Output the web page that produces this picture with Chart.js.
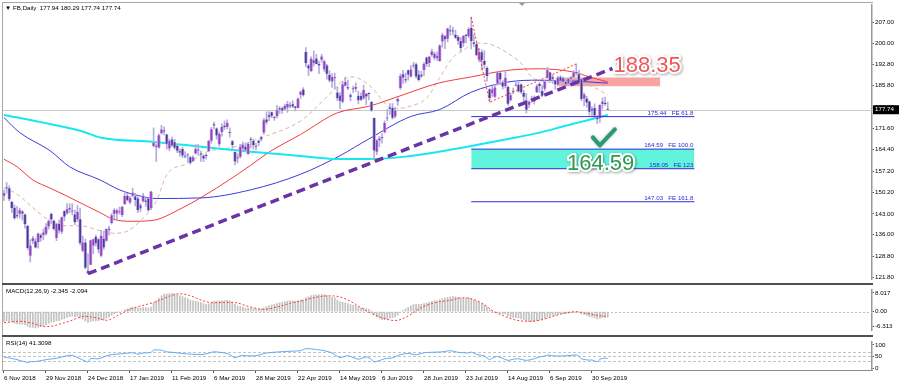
<!DOCTYPE html>
<html>
<head>
<meta charset="utf-8">
<script src="https://cdn.jsdelivr.net/npm/chart.js@4.4.0/dist/chart.umd.min.js"></script>
<style>
  html, body { margin: 0; padding: 0; background: #fff; }
  #wrap { position: relative; width: 900px; height: 387px; overflow: hidden; background: #fff; }
  #wrap canvas { position: absolute; left: 0; }
  .sep { position: absolute; left: 2px; width: 871px; height: 2px; background: #505050; }
  #frame { position: absolute; left: 2px; top: 2px; width: 870px; height: 368px; border-left: 1px solid #a8a8a8; border-top: 1px solid #a8a8a8; }
</style>
</head>
<body>
<div id="wrap">
  <div id="frame"></div>
  <canvas id="main" width="900" height="284" style="top:0"></canvas>
  <div class="sep" style="top:283px"></div>
  <canvas id="macd" width="900" height="50" style="top:285px"></canvas>
  <div class="sep" style="top:335px"></div>
  <canvas id="rsi" width="900" height="50" style="top:337px"></canvas>
</div>
<script>
// time axis: bar index of each date label
const tickIndex = [0, 16, 32, 48, 64, 80, 96, 112, 128, 144, 160, 176, 192, 208, 224];
const tickLabels = ['6 Nov 2018', '29 Nov 2018', '24 Dec 2018', '17 Jan 2019', '11 Feb 2019', '6 Mar 2019',
  '28 Mar 2019', '22 Apr 2019', '14 May 2019', '6 Jun 2019', '28 Jun 2019', '23 Jul 2019',
  '14 Aug 2019', '6 Sep 2019', '30 Sep 2019'];
const priceTicks = [207.00, 200.00, 192.80, 185.80, 178.60, 171.60, 164.40, 157.20, 150.20, 143.00, 136.00, 128.80, 121.80];
const macdTicks = [8.017, 0, -6.313];
const rsiTicks = [100, 70, 50, 30, 0];
const rsiLevels = [70, 50, 30];

// FB daily candles, 6 Nov 2018 .. 8 Oct 2019
const opens = [
  149.0,151.5,151.5,147.0,145.0,142.4,143.0,143.0,142.8,138.9,
  129.0,133.9,133.8,133.5,135.8,135.9,136.3,138.8,143.0,140.7,
  134.9,139.6,137.0,143.9,143.1,144.4,143.8,142.8,141.1,141.2,
  130.7,133.4,123.1,126.0,132.4,135.3,134.5,129.0,134.7,134.0,
  137.6,139.9,143.0,143.1,143.5,142.6,146.2,149.0,146.8,149.0,
  148.8,148.1,144.8,147.2,146.9,148.1,144.9,165.6,165.2,165.1,
  169.9,170.6,169.5,164.8,167.8,166.9,165.7,163.4,164.6,162.0,
  162.5,161.9,160.6,163.1,164.3,162.9,162.4,162.6,163.9,167.4,
  172.9,171.5,166.2,170.3,172.4,172.0,170.0,167.2,163.6,161.5,
  162.0,164.8,165.4,163.0,167.9,167.3,165.4,167.4,167.8,170.1,
  174.5,175.2,176.9,175.2,175.6,178.2,178.2,178.0,178.5,179.0,
  179.6,178.8,178.3,182.7,184.5,196.98,192.5,190.6,194.2,194.8,
  193.0,194.4,191.2,192.5,189.4,187.2,188.3,183.5,182.5,180.4,
  185.7,184.8,181.9,184.6,184.7,182.4,182.3,181.5,183.0,183.1,
  180.3,175.0,163.7,167.5,168.3,170.2,174.8,178.5,178.4,175.5,
  180.5,185.0,189.6,187.9,190.9,188.8,192.4,192.9,189.5,188.8,
  191.0,195.2,193.3,196.0,195.0,195.0,194.0,200.5,202.3,201.4,
  204.1,204.0,202.8,202.0,200.7,199.9,202.8,202.3,205.0,200.2,
  199.6,194.4,196.9,194.0,191.7,184.6,183.3,182.1,186.5,190.0,
  186.8,185.6,185.4,181.0,183.8,185.8,186.1,186.2,183.4,180.8,
  179.4,181.0,180.5,183.6,186.4,184.0,184.7,188.5,190.2,187.9,
  187.4,186.2,188.6,188.2,186.9,186.5,188.4,188.7,190.2,189.6,
  187.9,181.5,181.5,180.5,177.3,178.3,175.1,175.0,179.6,180.0,
  177.94];
const highs = [
  150.9,153.4,152.3,147.2,145.9,145.5,144.9,144.0,142.9,139.2,
  134.3,135.5,134.7,136.6,136.3,137.9,139.7,141.0,143.2,141.0,
  139.9,140.9,142.0,144.0,146.4,146.4,146.3,144.2,145.7,144.9,
  135.6,134.6,129.7,134.2,134.6,135.9,134.6,137.5,137.2,138.0,
  138.9,143.1,144.7,144.6,145.2,145.6,150.0,149.8,148.8,151.6,
  149.8,148.6,146.4,149.8,148.3,148.3,150.6,171.7,166.3,169.6,
  172.5,172.0,169.5,167.9,168.6,167.9,166.2,164.7,165.2,163.8,
  163.1,162.2,162.4,166.1,166.2,163.9,162.8,163.1,167.5,171.9,
  173.6,171.7,170.3,173.1,174.0,174.4,171.7,167.5,163.7,163.0,
  166.2,166.9,166.6,166.8,168.5,167.9,166.5,167.6,168.9,174.9,
  177.0,177.1,177.0,175.5,179.2,178.8,178.6,179.6,180.5,180.2,
  180.7,178.9,181.7,184.0,185.1,198.5,192.9,195.4,197.4,196.2,
  194.0,196.2,194.3,192.9,190.7,189.8,190.0,185.4,183.5,187.3,
  188.6,187.6,183.1,185.6,186.7,183.9,183.4,186.0,183.2,183.5,
  180.5,175.0,167.8,168.8,169.8,174.0,177.9,179.8,179.8,178.5,
  181.8,189.7,190.9,190.0,191.0,192.5,193.6,193.3,190.8,190.6,
  193.6,195.3,195.5,198.0,197.0,197.0,199.5,203.3,202.5,205.0,
  205.9,205.3,204.3,202.6,201.8,202.6,203.0,205.1,208.66,202.9,
  200.2,198.2,197.7,197.5,192.1,184.8,185.6,186.1,190.4,190.3,
  187.5,190.8,185.6,183.2,185.0,187.5,186.9,186.4,184.2,183.1,
  180.7,182.3,182.4,186.1,186.8,185.9,187.5,191.9,190.3,189.3,
  187.5,188.9,189.1,188.6,187.7,188.3,188.9,190.8,193.01,190.9,
  188.2,183.3,182.2,180.7,178.8,179.7,175.8,179.4,181.7,182.0,
  180.29];
const lows = [
  147.5,149.9,147.3,143.4,141.1,141.6,141.5,140.9,138.2,131.0,
  126.9,133.0,131.6,131.5,133.8,134.3,135.9,137.9,139.6,137.5,
  134.0,136.5,136.4,140.6,142.8,143.3,142.6,139.4,140.4,132.6,
  130.3,124.6,123.0,125.9,129.7,132.2,129.95,128.6,131.1,133.75,
  135.9,139.5,141.3,140.8,142.9,142.0,146.1,147.3,146.3,148.6,
  145.6,143.4,143.6,146.9,145.5,143.9,144.4,165.3,160.5,164.9,
  169.5,169.3,164.6,164.0,165.5,164.6,163.4,162.2,161.7,161.6,
  160.2,159.6,160.3,162.9,162.6,160.5,160.4,161.2,163.8,166.6,
  171.3,167.9,165.6,168.8,171.2,171.3,168.6,164.8,159.3,160.0,
  161.6,164.1,163.9,162.8,165.0,164.6,164.3,165.7,167.3,169.5,
  172.9,174.1,175.1,174.2,175.0,176.5,176.5,177.6,176.8,178.3,
  178.4,177.3,178.3,181.5,182.3,192.1,189.1,190.5,192.3,193.0,
  189.8,193.5,190.5,187.9,187.0,185.2,184.6,180.8,178.1,180.0,
  185.6,184.4,180.7,183.4,183.8,179.7,180.8,181.3,179.4,181.0,
  177.2,161.0,162.7,165.4,166.6,169.9,174.1,176.1,174.6,175.0,
  179.2,184.5,186.5,186.7,187.6,188.6,191.6,188.3,187.3,188.5,
  189.2,192.2,192.0,195.5,194.4,194.2,193.9,198.6,198.1,200.4,
  202.6,202.7,201.5,199.5,197.3,198.9,200.0,201.8,198.0,198.9,
  195.8,193.7,190.9,191.5,187.3,180.23,182.2,181.8,185.9,186.1,
  184.6,185.0,179.2,180.6,183.0,185.6,183.6,183.2,180.5,176.7,
  178.4,180.2,179.6,183.4,183.5,182.0,184.0,188.2,187.3,186.5,
  184.5,186.0,186.8,186.4,185.6,186.0,186.1,188.4,189.3,186.6,
  180.7,179.0,178.6,175.9,175.7,175.1,173.1,173.5,178.0,179.1,
  177.74];
const closes = [
  149.94,151.53,147.87,144.96,141.55,142.16,144.22,143.85,139.53,131.55,
  132.43,134.82,131.73,136.38,135.00,136.76,138.68,140.61,141.09,137.93,
  139.63,137.42,141.85,142.08,144.50,145.01,144.06,140.19,143.66,133.24,
  133.40,124.95,124.06,134.18,134.52,133.20,131.09,135.68,131.74,137.95,
  138.05,142.53,144.23,144.20,143.80,145.39,148.95,147.54,148.30,150.04,
  147.57,144.30,145.83,149.01,147.47,144.19,150.42,166.69,165.71,169.25,
  171.16,170.49,166.38,167.33,165.79,165.04,164.07,163.95,162.50,162.29,
  162.56,160.04,161.89,164.62,164.13,162.81,161.45,162.28,167.37,171.26,
  172.51,169.13,169.60,172.07,171.92,173.37,170.17,165.98,160.47,161.57,
  165.44,166.08,164.34,166.29,167.68,165.87,165.55,166.69,168.70,174.20,
  173.54,176.02,175.72,174.93,177.58,177.82,177.51,179.10,179.65,178.87,
  178.78,178.28,181.44,183.78,182.58,193.26,191.49,194.78,193.40,193.03,
  192.53,195.47,193.88,189.77,187.47,188.65,188.34,181.54,180.73,186.27,
  186.99,185.30,182.72,184.82,185.32,180.87,181.06,184.31,182.19,183.01,
  177.47,164.15,167.50,168.17,168.33,173.35,174.82,178.10,175.04,177.47,
  181.33,189.01,188.47,187.48,189.53,191.14,192.60,188.84,187.66,189.50,
  193.00,193.00,195.50,197.20,196.40,195.76,199.21,202.73,201.23,204.87,
  203.91,203.84,201.80,200.78,198.36,202.32,202.36,204.66,200.71,199.75,
  195.94,197.04,194.23,192.73,189.02,181.68,184.51,185.15,190.16,187.85,
  185.52,188.45,179.71,182.59,183.70,186.17,183.81,183.55,182.04,177.75,
  180.36,181.30,181.76,185.57,185.67,182.39,187.14,190.90,187.49,188.76,
  186.17,188.49,187.47,187.19,186.22,188.08,188.14,190.14,189.93,186.82,
  181.28,182.80,180.11,177.10,178.08,175.81,174.60,179.38,180.45,179.68,
  177.74];

// moving averages: [bar, price]
const ma200 = [[0,176.0],[14,173.6],[29,170.7],[37,168.4],[57,167.0],[75,165.4],[94,163.7],[113,162.3],
  [127,161.3],[139,161.3],[152,162.0],[165,163.6],[178,165.6],[191,167.8],[204,170.1],[214,172.4],[223,174.4],[230,176.0]];
const ma100 = [[0,175.1],[6,170.1],[17.5,164.1],[25,158.7],[36.6,154.3],[44,151.0],[52,148.9],[58,148.1],[75,148.3],
  [94,151.0],[113,156.2],[128,162.4],[139,168.0],[155,175.5],[166,177.8],[178,183.6],[192,187.0],[204,187.6],[217,187.3],[230,186.6]];
const ma50 = [[0,161.2],[5,158.7],[11,154.3],[17.5,151.6],[24,148.9],[31.5,145.6],[36.6,143.4],[41.5,141.2],[49,140.5],
  [56,140.7],[68,145.0],[81,151.6],[94,159.2],[101,163.6],[113,169.5],[127,176.7],[139,178.9],[152,182.7],[165,186.5],
  [178,188.7],[192,190.9],[204,191.4],[217,190.3],[223,188.7],[230,187.0]];
const ma20 = [[0,151.6],[2,151.0],[6,148.9],[11,145.0],[17.5,140.7],[24,139.0],[29,139.0],[36.6,137.4],[41.5,136.5],
  [47,137.2],[52,140.7],[58,147.2],[62,156.0],[70,159.8],[77,163.6],[87,165.2],[100,169.0],[113,174.0],[125,183.8],
  [130,188.1],[133,188.7],[136,187.8],[141,184.3],[144,181.0],[148,178.0],[155,179.0],[161,181.6],[166,188.5],
  [171,195.2],[175,197.5],[179,200.0],[184,199.8],[192,196.6],[198,192.3],[201,188.7],[207,187.0],[212,186.5],
  [218,187.0],[223,185.9],[230,182.7]];

// drawing objects
const trendLine = [[32, 123.0], [231.8, 191.5]];
const feSwing = [[178, 208.66], [185, 180.23], [218, 193.01]];
const feLevels = [175.44, 164.59, 158.05, 147.03];
const feNames = ['FE 61.8', 'FE 100.0', 'FE 123', 'FE 161.8'];
const feSpan = [178, 263];
const targetZone = [164.59, 158.05];
const resistBox = { from: 210.7, to: 250, top: 188.5, bottom: 185.6 };
const lastPrice = 177.74;
const trendLabel = '188.35';
const targetLabel = '164.59';

// MACD(12,26,9) main, one value per bar
const macdMain = [
  -4.2,-4.0,-4.1,-4.4,-4.9,-5.2,-5.3,-5.3,-5.6,-6.3,
  -6.7,-6.7,-6.9,-6.6,-6.4,-6.1,-5.6,-5.0,-4.5,-4.4,
  -4.0,-3.8,-3.3,-3.0,-2.5,-2.1,-1.9,-2.1,-2.0,-2.7,
  -3.2,-4.0,-4.6,-4.2,-3.9,-3.8,-3.8,-3.4,-3.4,-2.8,
  -2.3,-1.6,-0.9,-0.4,-0.1,0.3,0.9,1.2,1.5,1.9,
  1.9,1.7,1.6,1.8,1.8,1.5,2.0,3.6,4.7,5.8,
  6.8,7.5,7.6,7.8,7.8,7.6,7.3,6.9,6.5,6.0,
  5.6,5.0,4.6,4.5,4.2,3.9,3.5,3.2,3.4,3.9,
  4.4,4.5,4.5,4.7,4.8,4.9,4.7,4.1,3.2,2.5,
  2.2,2.0,1.6,1.5,1.5,1.3,1.2,1.1,1.2,1.7,
  2.1,2.6,2.9,3.1,3.5,3.8,4.0,4.3,4.5,4.6,
  4.6,4.5,4.7,5.0,5.1,6.0,6.4,6.9,7.1,7.2,
  7.2,7.3,7.3,6.9,6.5,6.2,5.9,5.0,4.2,4.0,
  3.8,3.5,3.0,2.8,2.6,2.0,1.6,1.5,1.2,1.0,
  0.4,-1.2,-2.2,-2.9,-3.4,-3.4,-3.2,-2.8,-2.6,-2.2,
  -1.5,-0.3,0.6,1.2,1.9,2.5,3.0,3.1,3.1,3.2,
  3.5,3.7,4.0,4.4,4.6,4.7,5.1,5.6,5.8,6.2,
  6.4,6.5,6.4,6.2,5.8,5.8,5.7,5.9,5.5,5.0,
  4.4,4.0,3.4,2.8,2.0,0.8,0.1,-0.4,-0.4,-0.6,
  -0.9,-1.0,-1.9,-2.3,-2.6,-2.6,-2.8,-3.0,-3.3,-4.0,
  -4.2,-4.3,-4.2,-3.8,-3.4,-3.3,-2.9,-2.3,-2.0,-1.6,
  -1.5,-1.2,-1.0,-0.8,-0.8,-0.6,-0.4,-0.2,0.0,-0.2,
  -0.9,-1.2,-1.6,-2.1,-2.3,-2.7,-3.1,-2.9,-2.6,-2.4,
  -2.345];
// MACD signal: [bar, value]
const macdSignal = [[0,-4.7],[6,-4.1],[11,-5.0],[16,-6.4],[24,-4.4],[31,-2.0],[35,-2.6],[39,-3.7],[44,-1.2],
  [49,1.5],[54,3.0],[58,4.3],[63,6.6],[67,7.7],[72,6.4],[76,4.6],[80,3.8],[84,4.0],[88,3.9],[93,2.3],[99,1.0],
  [104,2.0],[109,3.6],[114,4.8],[118,6.0],[124,6.8],[128,6.3],[133,3.8],[138,0.4],[144,-2.6],[149,-3.8],
  [154,-1.8],[159,1.8],[164,3.8],[170,4.9],[175,6.0],[179,5.2],[183,3.0],[186,0.5],[190,-1.6],[195,-3.6],
  [200,-4.1],[204,-3.7],[208,-2.4],[213,-0.8],[218,0.0],[222,-0.8],[226,-1.6],[230,-2.094]];
// RSI(14): [bar, value]
const rsi14 = [[0,47],[2,44],[5,36],[9,24],[10,27],[12,28],[15,34],[17,38],[20,42],[24,53],[26,55],[29,40],[31,30],
  [32,26],[33,41],[36,40],[40,56],[43,60],[46,63],[49,66],[51,60],[53,65],[56,67],[57,78],[60,77],[62,70],[64,68],
  [68,63],[71,60],[76,59],[80,70],[84,65],[86,58],[88,45],[90,53],[93,53],[96,53],[100,65],[105,70],[110,73],
  [113,75],[115,84],[119,80],[122,75],[125,65],[127,50],[128,45],[131,53],[135,38],[138,48],[140,38],[141,26],
  [145,40],[148,44],[151,58],[154,63],[157,57],[160,66],[163,68],[167,70],[170,75],[173,68],[177,65],[178,69],
  [180,59],[183,52],[185,36],[186,43],[188,50],[192,33],[194,38],[196,40],[199,33],[202,40],[204,48],[206,52],
  [207,56],[210,52],[214,53],[218,56],[219,52],[220,40],[223,34],[224,35],[226,27],[227,38],[229,43],[230,41.31]];

// ---- layout ----
const FONT = '"Liberation Sans", Arial, sans-serif';
const X_MIN = -0.38, X_MAX = 330.67;
const pts = arr => arr.map(p => ({ x: p[0], y: p[1] }));
const bull = i => closes[i] >= opens[i];

function xAxis(show) {
  return {
    type: 'linear', min: X_MIN, max: X_MAX, offset: false, display: show,
    afterBuildTicks: s => { s.ticks = tickIndex.map(v => ({ value: v })); },
    afterFit: s => { if (show) s.height = 17; },
    grid: { drawOnChartArea: false, tickLength: 3, tickColor: '#555', color: '#555' },
    border: { display: show, color: '#8a8a8a', width: 1 },
    ticks: {
      autoSkip: false, maxRotation: 0, align: 'start', padding: 2,
      color: '#000', font: { family: FONT, size: 6.2 },
      callback: v => tickLabels[tickIndex.indexOf(v)]
    }
  };
}
function yAxis(min, max, ticks, fmt) {
  return {
    position: 'right', min: min, max: max,
    afterBuildTicks: s => { s.ticks = ticks.map(v => ({ value: v })); },
    afterFit: s => { s.width = 28; },
    grid: { drawOnChartArea: false, tickLength: 2, tickColor: '#555' },
    border: { color: '#9a9a9a', width: 1.5 },
    ticks: { color: '#000', padding: 1, font: { family: FONT, size: 6.2 }, callback: fmt }
  };
}
const baseOptions = (padTop, padBottom) => ({
  responsive: false, animation: false, events: [],
  layout: { padding: { left: 3, right: 0, top: padTop, bottom: padBottom } },
  plugins: { legend: { display: false }, tooltip: { enabled: false } }
});
const lineDs = (data, color, width, dash, order, extra) => Object.assign({
  type: 'line', data: data, borderColor: color, borderWidth: width, borderDash: dash || [],
  pointRadius: 0, fill: false, order: order, cubicInterpolationMode: 'monotone'
}, extra || {});

function outlined(ctx, text, x, y, color) {
  ctx.save();
  ctx.shadowColor = 'rgba(0,0,0,0.35)';
  ctx.shadowBlur = 3; ctx.shadowOffsetX = 1; ctx.shadowOffsetY = 1;
  ctx.lineWidth = 4; ctx.lineJoin = 'round'; ctx.strokeStyle = '#fff';
  ctx.strokeText(text, x, y);
  ctx.shadowColor = 'transparent';
  ctx.fillStyle = color;
  ctx.fillText(text, x, y);
  ctx.restore();
}

// ---- main price chart ----
const mainDecor = {
  id: 'mainDecor',
  beforeDatasetsDraw(chart) {
    const { ctx, chartArea: a, scales: { y } } = chart;
    const py = Math.round(y.getPixelForValue(lastPrice)) + 0.5;
    ctx.save();
    ctx.strokeStyle = '#c8c8c8'; ctx.lineWidth = 1;
    ctx.beginPath(); ctx.moveTo(a.left, py); ctx.lineTo(a.right, py); ctx.stroke();
    ctx.restore();
  },
  afterDatasetsDraw(chart) {
    const { ctx, scales: { x, y } } = chart;
    ctx.save();
    // fibo expansion level captions
    ctx.font = '6.2px ' + FONT;
    ctx.fillStyle = '#2c2cd2'; ctx.textAlign = 'right'; ctx.textBaseline = 'bottom';
    feLevels.forEach((lv, i) => {
      ctx.fillText(lv.toFixed(2) + '   ' + feNames[i], x.getPixelForValue(feSpan[1]) - 1, y.getPixelForValue(lv) - 0.5);
    });
    // big price callouts
    ctx.font = '22px ' + FONT;
    ctx.textAlign = 'left'; ctx.textBaseline = 'alphabetic';
    const tEnd = trendLine[1];
    outlined(ctx, trendLabel, x.getPixelForValue(tEnd[0]) + 1, y.getPixelForValue(tEnd[1]) + 4, '#f05656');
    outlined(ctx, targetLabel, x.getPixelForValue(214.5), y.getPixelForValue(targetZone[1]) + 1, '#2e9a4c');
    // tick mark at the touch of the long average
    const cx = x.getPixelForValue(227), cy = y.getPixelForValue(167.5);
    ctx.save();
    ctx.shadowColor = 'rgba(0,0,0,0.3)'; ctx.shadowBlur = 3;
    ctx.strokeStyle = '#2b9c72'; ctx.lineWidth = 4; ctx.lineCap = 'round'; ctx.lineJoin = 'round';
    ctx.beginPath();
    ctx.moveTo(cx - 7, cy - 3); ctx.lineTo(cx, cy + 5); ctx.lineTo(cx + 15, cy - 11);
    ctx.stroke();
    ctx.restore();
    ctx.restore();
  },
  afterDraw(chart) {
    const { ctx, chartArea: a, scales: { y } } = chart;
    ctx.save();
    // symbol header
    ctx.font = '6.2px ' + FONT; ctx.fillStyle = '#000'; ctx.textBaseline = 'middle'; ctx.textAlign = 'left';
    ctx.fillText('\u25BC', 5, 8);
    ctx.fillText('FB,Daily  ' + [opens, highs, lows, closes].map(s => s[s.length - 1].toFixed(2)).join(' '), 13, 8);
    // shift marker
    ctx.fillStyle = '#9a9a9a';
    ctx.beginPath(); ctx.moveTo(519, 3); ctx.lineTo(525, 3); ctx.lineTo(522, 6); ctx.closePath(); ctx.fill();
    // last price box
    const py = y.getPixelForValue(lastPrice);
    ctx.fillStyle = '#000';
    ctx.fillRect(a.right + 1, py - 4.5, 26, 9);
    ctx.fillStyle = '#fff';
    ctx.fillText(lastPrice.toFixed(2), a.right + 3, py);
    ctx.restore();
  }
};

const idx = closes.map((c, i) => i);
new Chart(document.getElementById('main'), {
  type: 'bar',
  data: {
    datasets: [
      lineDs([{ x: resistBox.from, y: resistBox.top }, { x: resistBox.to, y: resistBox.top }], 'rgba(0,0,0,0)', 0, null, 30,
        { fill: { value: resistBox.bottom }, backgroundColor: '#f6a4a4', cubicInterpolationMode: 'default' }),
      lineDs([{ x: feSpan[0], y: targetZone[0] }, { x: feSpan[1], y: targetZone[0] }], 'rgba(0,0,0,0)', 0, null, 30,
        { fill: { value: targetZone[1] }, backgroundColor: '#62f3dc', cubicInterpolationMode: 'default' }),
      lineDs(pts(ma200), '#16e8f0', 2, null, 20),
      lineDs(pts(ma100), '#3b3be2', 1, null, 20),
      lineDs(pts(ma50), '#f03c3c', 1, null, 20),
      lineDs(pts(ma20), '#d9b3a6', 1, [4, 3], 20),
      {
        type: 'bar', order: 12, grouped: false, barThickness: 1,
        data: idx.map(i => ({ x: i, y: [lows[i], highs[i]] })),
        backgroundColor: '#b3addc'
      },
      {
        type: 'bar', order: 11, grouped: false, barThickness: 3, minBarLength: 1,
        data: idx.map(i => ({ x: i, y: [opens[i], closes[i]] })),
        backgroundColor: c => bull(c.dataIndex) ? '#a03ac6' : '#4d3399',
        borderColor: '#b3addc', borderWidth: { left: 1, right: 1, top: 0, bottom: 0 }, borderSkipped: false
      },
      ...feLevels.map(lv => lineDs([{ x: feSpan[0], y: lv }, { x: feSpan[1], y: lv }], '#3030d8', 1, null, 5)),
      lineDs(pts(feSwing), '#ff3434', 1, [2, 2], 4, { cubicInterpolationMode: 'default', tension: 0 }),
      lineDs(pts(trendLine), '#6a34a8', 3.5, [9, 5], 1, { cubicInterpolationMode: 'default', tension: 0 })
    ]
  },
  options: Object.assign(baseOptions(3, 1), {
    scales: {
      x: xAxis(false),
      y: yAxis(121.14, 212.79, priceTicks, v => v.toFixed(2))
    }
  }),
  plugins: [mainDecor]
});

// ---- MACD panel ----
const levelLines = (levels, color, dash) => ({
  id: 'levels',
  beforeDatasetsDraw(chart) {
    const { ctx, chartArea: a, scales: { y } } = chart;
    ctx.save();
    ctx.strokeStyle = color; ctx.lineWidth = 1; ctx.setLineDash(dash);
    levels.forEach(v => {
      const py = Math.round(y.getPixelForValue(v)) + 0.5;
      ctx.beginPath(); ctx.moveTo(a.left, py); ctx.lineTo(a.right, py); ctx.stroke();
    });
    ctx.restore();
  }
});
const panelTitle = text => ({
  id: 'title',
  afterDraw(chart) {
    const ctx = chart.ctx;
    ctx.save();
    ctx.font = '6.2px ' + FONT; ctx.fillStyle = '#000'; ctx.textBaseline = 'middle';
    ctx.fillText(text, 6, 6);
    ctx.restore();
  }
});

new Chart(document.getElementById('macd'), {
  type: 'bar',
  data: {
    datasets: [
      {
        type: 'bar', barThickness: 1, order: 2,
        data: macdMain.map((v, i) => ({ x: i, y: v })), backgroundColor: '#c2c2c2'
      },
      lineDs(pts(macdSignal), '#ff3b3b', 1, [2, 2], 1)
    ]
  },
  options: Object.assign(baseOptions(0, 0), {
    scales: {
      x: xAxis(false),
      y: yAxis(-7.955, 9.406, macdTicks, v => v === 0 ? '0.00' : v.toFixed(3))
    }
  }),
  plugins: [levelLines([0], '#bdbdbd', [2, 2]),
    panelTitle('MACD(12,26,9) ' + macdMain[macdMain.length - 1].toFixed(3) + ' ' + macdSignal[macdSignal.length - 1][1].toFixed(3))]
});

// ---- RSI panel ----
new Chart(document.getElementById('rsi'), {
  type: 'line',
  data: {
    datasets: [lineDs(pts(rsi14), '#5ea8f2', 1, null, 1, { cubicInterpolationMode: 'default', tension: 0.2 })]
  },
  options: Object.assign(baseOptions(0, 0), {
    scales: {
      x: xAxis(true),
      y: yAxis(-8.5, 113.7, rsiTicks, v => String(v))
    }
  }),
  plugins: [levelLines(rsiLevels, '#c4c4c4', [3, 2]), panelTitle('RSI(14) 41.3098')]
});
</script>
</body>
</html>
